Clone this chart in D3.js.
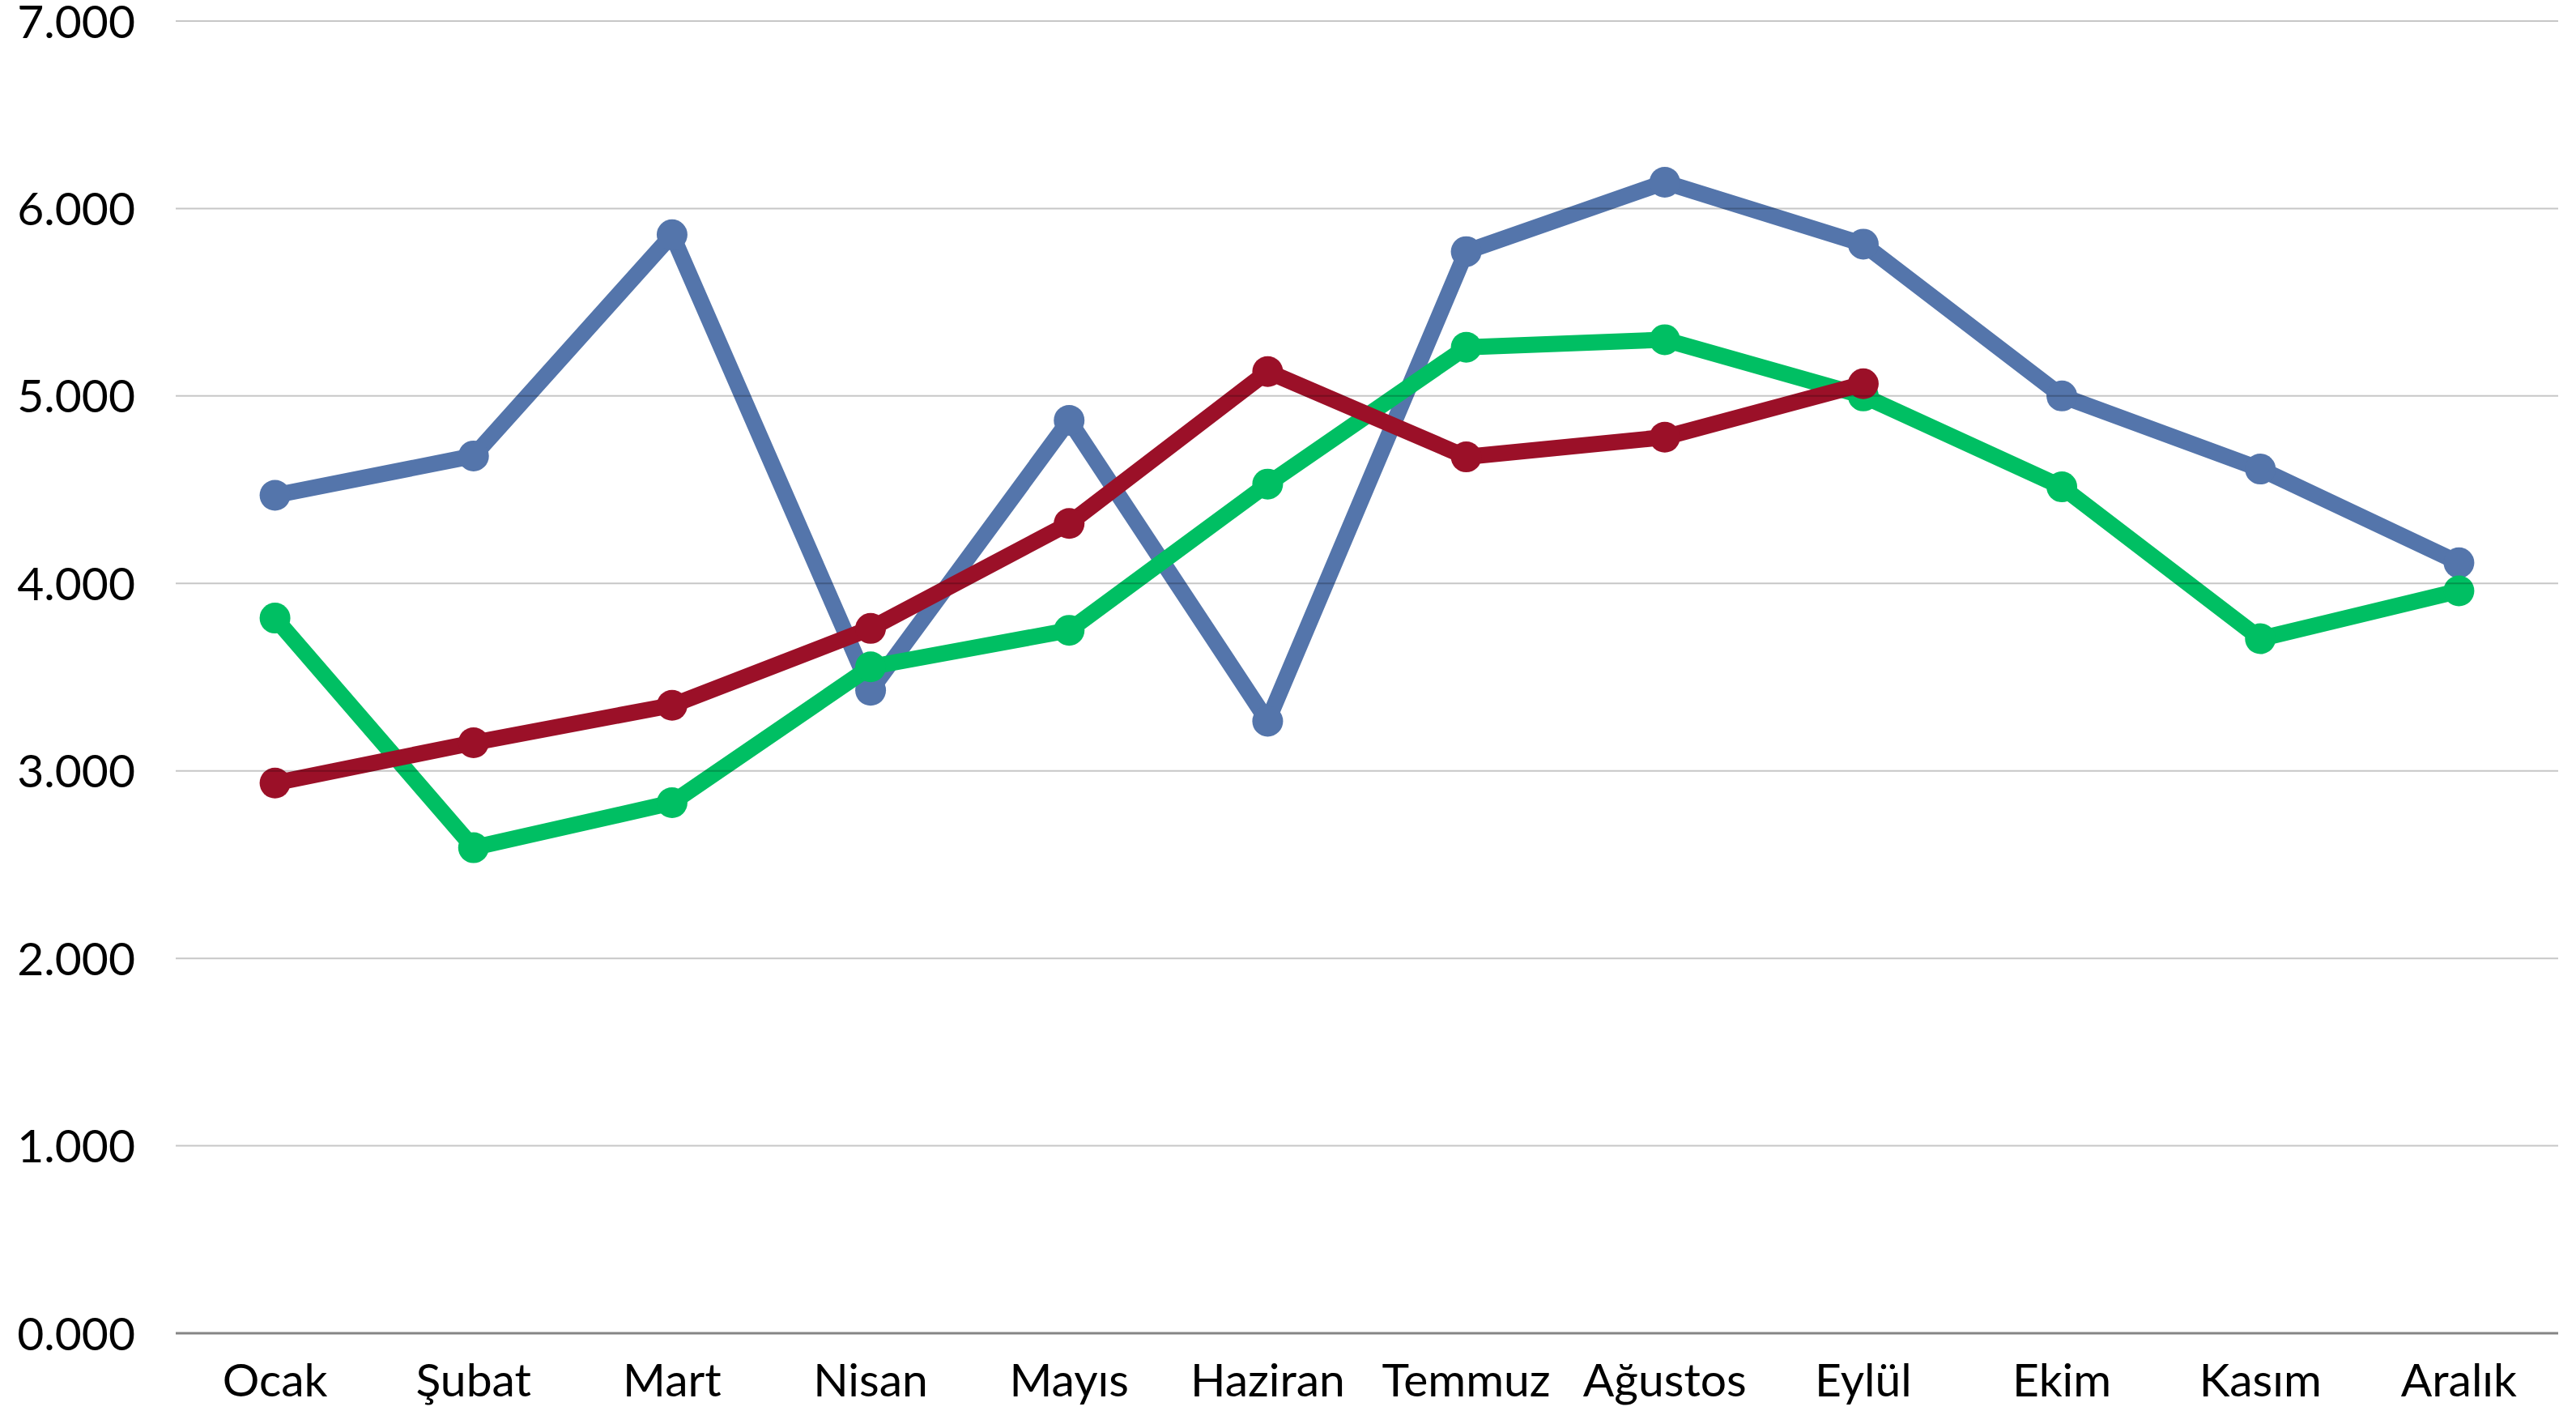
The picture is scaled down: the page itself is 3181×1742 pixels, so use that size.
<!DOCTYPE html>
<html>
<head>
<meta charset="utf-8">
<script src="https://cdn.jsdelivr.net/npm/d3@7"></script>
<style>
  body { margin: 0; background: #fff; }
  text { font-family: Lato, "Open Sans", sans-serif; }
</style>
</head>
<body>
<svg id="chart" width="3181" height="1742"></svg>
<script>
var months = ["Ocak", "Şubat", "Mart", "Nisan", "Mayıs", "Haziran", "Temmuz", "Ağustos", "Eylül", "Ekim", "Kasım", "Aralık"];

var blueSeries  = [4470, 4680, 5860, 3430, 4870, 3265, 5770, 6140, 5810, 5000, 4610, 4110];
var greenSeries = [3815, 2590, 2830, 3555, 3750, 4530, 5260, 5300, 5000, 4515, 3705, 3960];
var redSeries   = [2935, 3150, 3350, 3760, 4320, 5130, 4675, 4780, 5065];

var yTicks = [0, 1000, 2000, 3000, 4000, 5000, 6000, 7000];

var svg = d3.select("#chart"),
    margin = {left: 217, right: 22, top: 26, bottom: 96},
    width = +svg.attr("width"),
    height = +svg.attr("height");

var x = d3.scaleBand()
    .domain(months)
    .range([margin.left, width - margin.right]);

var y = d3.scaleLinear()
    .domain([0, 7000])
    .range([height - margin.bottom, margin.top]);

// turkish style: 7000 -> "7.000", values are in thousands so show 3 decimals
var trLocale = d3.formatLocale({decimal: ",", thousands: ".", grouping: [3], currency: ["", ""]});
var label = d => d === 0 ? "0.000" : trLocale.format(",.0f")(d);

var cx = d => x(d) + x.bandwidth() / 2;

var series = [
  {values: blueSeries,  color: "#5475ab"},
  {values: greenSeries, color: "#00bf63"},
  {values: redSeries,   color: "#9b1028"}
];

var line = d3.line()
    .x((d, i) => cx(months[i]))
    .y(d => y(d));

// lines + markers
series.forEach(s => {
  var g = svg.append("g");
  g.append("path")
    .datum(s.values)
    .attr("d", line)
    .attr("fill", "none")
    .attr("stroke", s.color)
    .attr("stroke-width", 20)
    .attr("stroke-linejoin", "round");

  g.selectAll("circle")
    .data(s.values)
    .enter().append("circle")
      .attr("cx", (d, i) => cx(months[i]))
      .attr("cy", d => y(d))
      .attr("r", 19)
      .attr("fill", s.color);
});

// gridlines sit on top of the lines, semi-transparent
svg.append("g")
  .selectAll("line")
  .data(yTicks.filter(d => d > 0))
  .enter().append("line")
    .attr("x1", margin.left)
    .attr("x2", width - margin.right)
    .attr("y1", d => y(d))
    .attr("y2", d => y(d))
    .attr("stroke", "#000")
    .attr("stroke-opacity", 0.22)
    .attr("stroke-width", 2);

// baseline
svg.append("line")
  .attr("x1", margin.left)
  .attr("x2", width - margin.right)
  .attr("y1", y(0))
  .attr("y2", y(0))
  .attr("stroke", "#858585")
  .attr("stroke-width", 3);

// y labels
svg.append("g")
  .selectAll("text")
  .data(yTicks)
  .enter().append("text")
    .attr("x", 167)
    .attr("y", d => y(d))
    .attr("dy", "0.36em")
    .attr("text-anchor", "end")
    .attr("font-size", 57)
    .attr("fill", "#000")
    .text(label);

// x labels
svg.append("g")
  .selectAll("text")
  .data(months)
  .enter().append("text")
    .attr("x", cx)
    .attr("y", 1724)
    .attr("text-anchor", "middle")
    .attr("font-size", 57)
    .attr("fill", "#000")
    .text(d => d);
</script>
</body>
</html>
